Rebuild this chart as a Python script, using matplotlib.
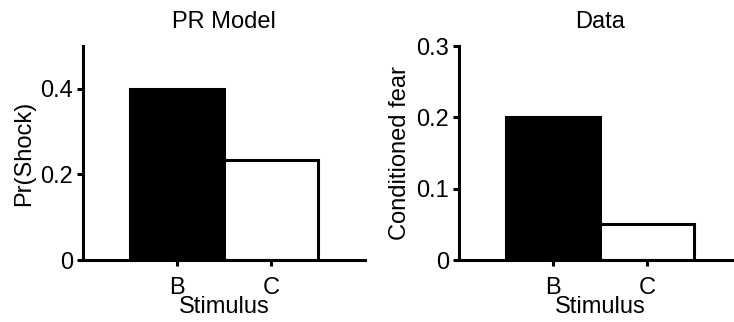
import matplotlib.pyplot as plt
from matplotlib.ticker import FuncFormatter

plt.rcParams['font.family'] = ['Liberation Sans', 'DejaVu Sans']

stimuli = ['B', 'C']
model_pr_shock = [0.4, 0.233]
data_fear = [0.2, 0.05]
bar_colors = ['black', 'white']


def fmt(v, pos):
    return '0' if v == 0 else f'{v:g}'


def panel(ax, vals, title, ylabel, ylim, yticks):
    ax.bar([1, 2], vals, width=1.0, color=bar_colors, edgecolor='black', linewidth=2.2)
    ax.set_xlim(0, 3)
    ax.set_ylim(*ylim)
    ax.set_xticks([1, 2])
    ax.set_xticklabels(stimuli)
    ax.set_yticks(yticks)
    ax.yaxis.set_major_formatter(FuncFormatter(fmt))
    ax.set_title(title, fontsize=17, pad=13)
    ax.set_ylabel(ylabel, fontsize=17, labelpad=4)
    ax.set_xlabel('Stimulus', fontsize=17, labelpad=-2)
    for s in ['top', 'right']:
        ax.spines[s].set_visible(False)
    for s in ['left', 'bottom']:
        ax.spines[s].set_linewidth(2.2)
    ax.tick_params(width=2.2, length=4, labelsize=17)
    ax.tick_params(axis='y', pad=3)
    ax.tick_params(axis='x', pad=8)


fig = plt.figure(figsize=(7.34, 3.22), dpi=100)
ax1 = fig.add_axes([0.1131, 0.1925, 0.3842, 0.6646])
ax2 = fig.add_axes([0.6253, 0.1925, 0.3842, 0.6646])

panel(ax1, model_pr_shock, 'PR Model', 'Pr(Shock)', (0, 0.5), [0, 0.2, 0.4])
panel(ax2, data_fear, 'Data', 'Conditioned fear', (0, 0.3), [0, 0.1, 0.2, 0.3])

fig.savefig('out.png', dpi=100)
